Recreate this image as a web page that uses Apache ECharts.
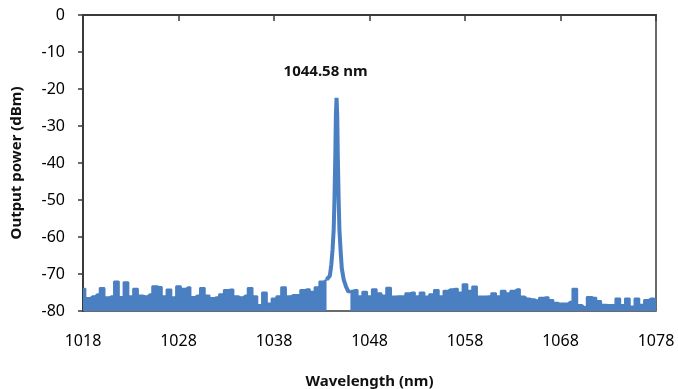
<!DOCTYPE html>
<html>
<head>
<meta charset="utf-8">
<script src="https://cdn.jsdelivr.net/npm/echarts@6/dist/echarts.min.js"></script>
<style>
  html, body { margin: 0; padding: 0; background: #fff; }
  #chart { width: 678px; height: 389px; }
</style>
</head>
<body>
<div id="chart"></div>
<script>
// noise floor left of the peak, 1018 - 1043.5 nm every 0.5 nm
const leftStart = 1018;
const noiseStep = 0.5;
const noiseLeft = [
  -74, -76.5, -76, -75.5, -73.8, -76.3, -76, -72, -76.2, -72.2,
  -76, -74, -75.8, -76, -75.5, -73.3, -73.5, -76, -74.2, -76.3,
  -73.3, -74, -73.6, -76.2, -75.8, -73.8, -75.8, -76.5, -76.3, -75.5,
  -74.3, -74.2, -76, -76.3, -75.8, -73.8, -76, -78.4, -75, -78,
  -76.6, -76, -73.6, -76, -75.7, -75.7, -74.3, -74.1, -74.8, -73.6,
  -72, -71.5
];

// noise floor right of the peak, 1046 - 1078 nm every 0.5 nm
const rightStart = 1046;
const noiseRight = [
  -74.5, -74.3, -76, -74.8, -76, -74.1, -75.2, -75.8, -73.7, -76.1,
  -76, -76, -75.2, -75, -76, -75, -76.1, -75.5, -74.3, -76,
  -74.5, -74.1, -74, -75, -72.8, -74.5, -73.4, -76.1, -76.1, -76,
  -75.2, -76, -74.5, -75.2, -74.5, -74.1, -76.1, -76.6, -76.8, -77.1,
  -76.4, -76.3, -77, -77.8, -78, -78, -77.5, -74, -78.4, -78.9,
  -76.2, -76.4, -77.3, -78.3, -78.4, -78.4, -76.6, -78.4, -76.6, -78.8,
  -76.6, -78.3, -77, -76.6, -77
];

// laser line
const peakWl = [1043.5, 1043.7, 1043.85, 1044.0, 1044.13, 1044.25, 1044.33, 1044.42, 1044.48,
  1044.55, 1044.62, 1044.68, 1044.77, 1044.85, 1044.97, 1045.1, 1045.3, 1045.55, 1045.8, 1046.0];
const peakDbm = [-71.5, -71.5, -70.5, -67.5, -63.5, -58, -50, -38, -27,
  -22.4, -27, -38, -50, -58, -63.5, -68.5, -71.5, -73.5, -74.8, -74.5];

const peakLabel = '1044.58 nm';
const xTicks = [1018, 1028, 1038, 1048, 1058, 1068, 1078];

const blue = '#4a7fc2';
const axisColor = '#3a3a3a';
const font = 'Noto Sans';

const leftData = noiseLeft.map((v, i) => [leftStart + i * noiseStep, v]);
const rightData = noiseRight.map((v, i) => [rightStart + i * noiseStep, v]);
const peakData = peakWl.map((w, i) => [w, peakDbm[i]]);

const chart = echarts.init(document.getElementById('chart'));

const option = {
  animation: false,
  grid: {
    left: 83, right: 22, top: 15, bottom: 78,
    outerBoundsMode: 'none',
    containLabel: false,
    show: true, borderColor: axisColor, borderWidth: 1.5
  },
  xAxis: {
    type: 'value',
    min: xTicks[0], max: xTicks[xTicks.length - 1], interval: 10,
    name: 'Wavelength (nm)',
    nameLocation: 'middle',
    nameGap: 63,
    nameTextStyle: { fontFamily: font, fontWeight: 'bold', fontSize: 15, color: '#111' },
    axisLine: { lineStyle: { color: axisColor, width: 2 } },
    axisTick: { show: true, length: 6, lineStyle: { color: axisColor, width: 1.5 } },
    axisLabel: { margin: 22, fontFamily: font, fontSize: 16, color: '#000', formatter: v => String(v) },
    splitLine: { show: false }
  },
  yAxis: {
    type: 'value',
    min: -80, max: 0, interval: 10,
    name: 'Output power (dBm)',
    nameLocation: 'middle',
    nameGap: 59,
    nameTextStyle: { fontFamily: font, fontWeight: 'bold', fontSize: 15, color: '#111' },
    axisLine: { show: true, lineStyle: { color: axisColor, width: 2 } },
    axisTick: { show: true, length: 5, lineStyle: { color: axisColor, width: 1.5 } },
    axisLabel: { margin: 18, fontFamily: font, fontSize: 16, color: '#000' },
    splitLine: { show: false }
  },
  series: [
    {
      type: 'line',
      data: leftData,
      step: 'middle',
      symbol: 'none',
      lineStyle: { color: blue, width: 2 },
      areaStyle: { color: blue, opacity: 1, origin: 'start' }
    },
    {
      type: 'line',
      data: rightData,
      step: 'middle',
      symbol: 'none',
      lineStyle: { color: blue, width: 2 },
      areaStyle: { color: blue, opacity: 1, origin: 'start' }
    },
    {
      type: 'line',
      data: peakData,
      symbol: 'none',
      lineStyle: { color: blue, width: 4 },
      markPoint: {
        symbol: 'circle',
        symbolSize: 0,
        data: [{ coord: [peakWl[9], peakDbm[9]] }],
        label: {
          show: true,
          formatter: peakLabel,
          position: 'inside',
          offset: [-11, -26],
          fontFamily: font,
          fontWeight: 'bold',
          fontSize: 15,
          color: '#111'
        }
      }
    }
  ]
};

chart.setOption(option);
</script>
</body>
</html>
